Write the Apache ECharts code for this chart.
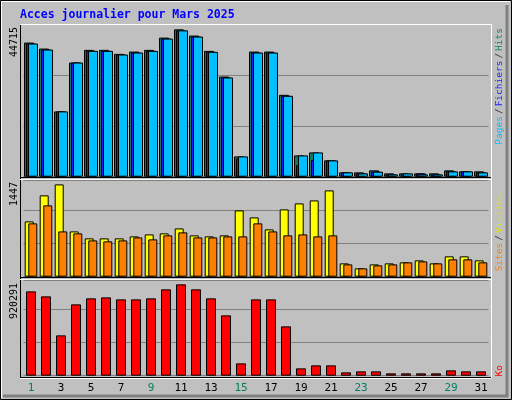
<!DOCTYPE html>
<html><head><meta charset="utf-8">
<script src="https://cdn.jsdelivr.net/npm/echarts@6/dist/echarts.min.js"></script>
<style>html,body{margin:0;padding:0;background:#c0c0c0}#c{width:512px;height:400px}</style>
</head><body><div id="c"></div>
<script>
const days = ['1','2','3','4','5','6','7','8','9','10','11','12','13','14','15','16','17','18','19','20','21','22','23','24','25','26','27','28','29','30','31'];
const weekend = ['1','2','8','9','15','16','22','23','29','30'];
const hits = [40700,38880,19800,34640,38480,38480,37270,37970,38480,42200,44715,42820,38180,30400,6160,37970,37970,24840,6460,7370,4950,1310,1310,1920,1010,1010,1010,1010,1920,1616,1616];
const files = [40400,38580,19800,34640,38180,38180,37070,37670,38180,41900,44400,42520,37880,30100,5500,37670,37670,24540,3535,5050,4950,1310,1010,1515,700,700,1010,700,1616,1616,1310];
const pages = [40400,38580,19800,34640,38180,38180,37070,37670,38180,41900,44400,42520,37880,30100,6160,37670,37670,24540,6460,7370,4950,1310,1010,1515,700,1010,700,700,1616,1616,1310];
const visits = [867,1275,1447,710,601,601,601,632,663,679,757,648,632,648,1040,930,742,1055,1149,1196,1353,209,131,193,209,225,256,209,319,319,256];
const sites = [836,1118,710,679,569,554,569,616,585,648,695,616,616,632,632,836,710,648,663,632,648,193,131,178,193,225,240,209,272,272,225];
const ko = [849750,799370,406400,718760,779220,789290,769140,769140,779220,869900,920291,869900,779220,607920,124270,769140,769140,497090,73890,104120,104120,33590,43660,43660,23510,23510,23510,23510,53740,43660,43660];

const mono = 'DejaVu Sans Mono';
const maxTop = Math.max(...hits), maxMid = Math.max(...visits), maxBot = Math.max(...ko);
const grids = [
  {left:23.5, width:465, top:24.5, height:152.2},
  {left:23.5, width:465, top:180, height:96.7},
  {left:23.5, width:465, top:280.7, height:95}
];
function xAx(i, show){
  return {type:'category', gridIndex:i, data:days, boundaryGap:true,
    axisLine:{show:false}, axisTick:{show:false},
    axisLabel:{show:show, margin:7, fontFamily:mono, fontSize:11,
      color:(v)=>weekend.includes(v)?'#008060':'#000'}};
}
function yAx(i, max, interval){
  return {type:'value', gridIndex:i, min:0, max:max, interval:interval,
    axisLabel:{show:false}, axisLine:{show:false}, axisTick:{show:false},
    splitLine:{lineStyle:{color:'#808080', width:1}}};
}
const bs = {borderColor:'#000', borderWidth:1};
function vtext(x, y, text, rich, fs, color){
  return {type:'text', x:x, y:y, rotation:Math.PI/2, z:10,
    style:{text:text, rich:rich, fontFamily:mono, fontSize:fs, fill:color||'#000', align:'right', verticalAlign:'middle'}};
}
const chart = echarts.init(document.getElementById('c'), null, {renderer:'canvas'});
chart.setOption({
  backgroundColor:'#c0c0c0',
  animation:false,
  grid:grids,
  xAxis:[xAx(0,false), xAx(1,false), xAx(2,true)],
  yAxis:[yAx(0,46180,15450), yAx(1,1516,517), yAx(2,957200,332500)],
  series:[
    {type:'bar', xAxisIndex:0, yAxisIndex:0, data:hits, barWidth:10, barGap:'-80%', itemStyle:Object.assign({color:'#107860'},bs)},
    {type:'bar', xAxisIndex:0, yAxisIndex:0, data:files, barWidth:10, barGap:'-80%', itemStyle:Object.assign({color:'#2020ff'},bs)},
    {type:'bar', xAxisIndex:0, yAxisIndex:0, data:pages, barWidth:10, barGap:'-80%', itemStyle:Object.assign({color:'#00bfff'},bs)},
    {type:'bar', xAxisIndex:1, yAxisIndex:1, data:visits, barWidth:9, barGap:'-60%', itemStyle:Object.assign({color:'#ffff00'},bs)},
    {type:'bar', xAxisIndex:1, yAxisIndex:1, data:sites, barWidth:9, barGap:'-60%', itemStyle:Object.assign({color:'#ff8000'},bs)},
    {type:'bar', xAxisIndex:2, yAxisIndex:2, data:ko, barWidth:10, itemStyle:Object.assign({color:'#ff0000'},bs)}
  ],
  graphic:[
    {type:'rect', z:-10, shape:{x:0.5,y:0.5,width:511,height:399}, style:{fill:'none', stroke:'#000', lineWidth:1}},
    {type:'polyline', z:-9, shape:{points:[[1.5,398],[1.5,1.5],[510,1.5]]}, style:{fill:'none', stroke:'#fff', lineWidth:1}},
    {type:'polyline', z:-9, shape:{points:[[3,396],[507,396],[507,5]]}, style:{fill:'none', stroke:'#808080', lineWidth:3}},
    {type:'text', x:20, y:15, style:{text:'Acces journalier pour Mars 2025', fontFamily:mono, fontSize:11.5, fontWeight:'bold', fill:'#0000ff', verticalAlign:'middle'}},
    {type:'polyline', z:5, shape:{points:[[20.5,377.5],[20.5,24.5],[491,24.5]]}, style:{fill:'none', stroke:'#000', lineWidth:1}},
    {type:'line', z:5, shape:{x1:20,y1:24.5,x2:491,y2:24.5}, style:{stroke:'#fff', lineWidth:1}},
    {type:'line', z:5, shape:{x1:491.5,y1:24,x2:491.5,y2:378}, style:{stroke:'#fff', lineWidth:1}},
    {type:'line', z:5, shape:{x1:20,y1:377.5,x2:491,y2:377.5}, style:{stroke:'#000', lineWidth:1}},
    {type:'line', z:5, shape:{x1:20,y1:377.5+1,x2:491,y2:377.5+1}, style:{stroke:'#fff', lineWidth:1}},
    {type:'line', z:5, shape:{x1:20,y1:177.5,x2:491,y2:177.5}, style:{stroke:'#000', lineWidth:1}},
    {type:'line', z:5, shape:{x1:20,y1:179.5,x2:491,y2:179.5}, style:{stroke:'#fff', lineWidth:1}},
    {type:'line', z:5, shape:{x1:20,y1:277.5,x2:491,y2:277.5}, style:{stroke:'#000', lineWidth:1}},
    {type:'line', z:5, shape:{x1:20,y1:279.5,x2:491,y2:279.5}, style:{stroke:'#fff', lineWidth:1}},
    vtext(14, 27, String(maxTop), null, 10),
    vtext(14, 182, String(maxMid), null, 10),
    vtext(14, 283, String(maxBot), null, 10),
    vtext(500, 28, '{a|Pages}{s|/}{b|Fichiers}{s|/}{c|Hits}', {
      a:{fill:'#00bfff', fontFamily:mono, fontSize:9.5}, b:{fill:'#2020ff', fontFamily:mono, fontSize:9.5},
      c:{fill:'#108060', fontFamily:mono, fontSize:9.5}, s:{fill:'#333', fontFamily:mono, fontSize:9.5, padding:[0,2]}}, 9.5),
    vtext(500, 193, '{b|Sites}{s|/}{a|Visites}', {
      a:{fill:'#e0e000', fontFamily:mono, fontSize:9.5}, b:{fill:'#ff8000', fontFamily:mono, fontSize:9.5},
      s:{fill:'#333', fontFamily:mono, fontSize:9.5, padding:[0,2]}}, 9.5),
    vtext(500, 365, 'Ko', null, 9.5, '#ff0000')
  ]
});
</script></body></html>
